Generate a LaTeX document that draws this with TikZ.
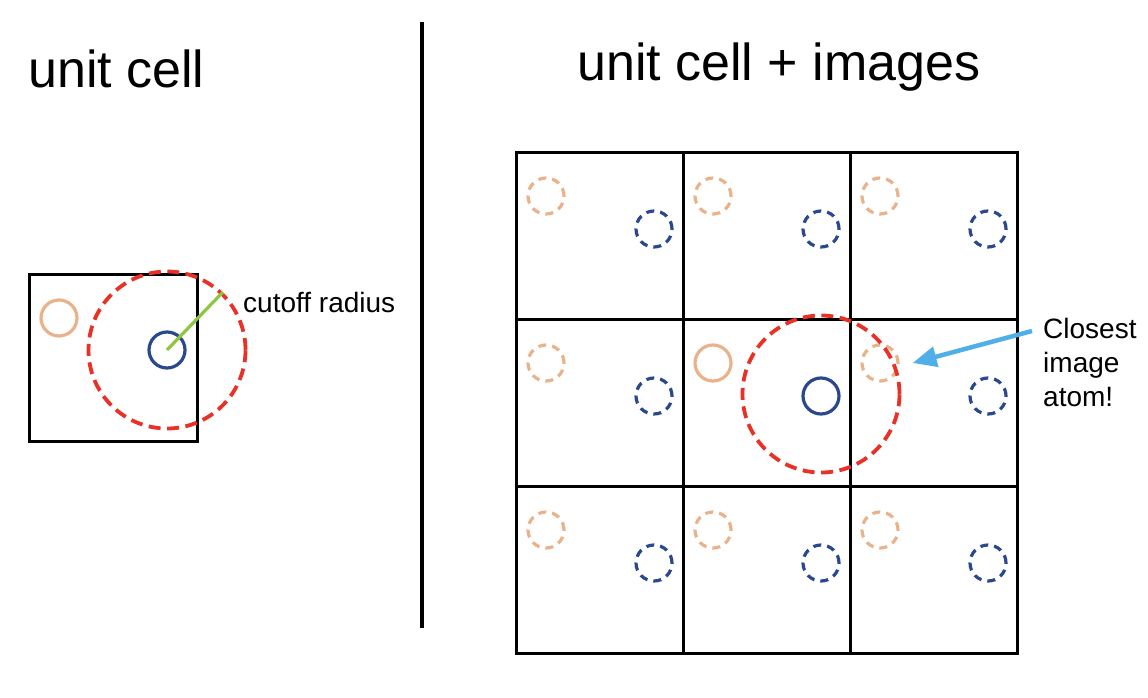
\documentclass[tikz,border=0pt]{standalone}
\usepackage{fontspec}
\setmainfont{Liberation Sans}
\usetikzlibrary{arrows.meta}
\definecolor{atomO}{RGB}{233,178,138}
\definecolor{atomB}{RGB}{42,72,140}
\definecolor{cutred}{RGB}{232,50,40}
\definecolor{cutgreen}{RGB}{141,198,63}
\definecolor{arrblue}{RGB}{80,174,232}
\tikzset{
  cellbox/.style={draw=black, line width=3pt},
  atomo/.style={circle, draw=atomO, line width=3.2pt, minimum size=36pt, inner sep=0pt},
  atomb/.style={circle, draw=atomB, line width=3.2pt, minimum size=36pt, inner sep=0pt},
  imgdash/.style={dash pattern=on 8pt off 6pt},
  cutoff/.style={circle, draw=cutred, line width=3.8pt, dash pattern=on 12pt off 6.5pt, minimum size=157pt, inner sep=0pt},
  lbl/.style={inner sep=0pt, font=\fontsize{28}{34}\selectfont},
  ttl/.style={inner sep=0pt, font=\fontsize{52}{60}\selectfont, anchor=base west},
}
\begin{document}
\begin{tikzpicture}[x=1pt,y=-1pt]
\useasboundingbox (0,0) rectangle (1148,698);
% titles
\node[ttl] (t1) at (28,88) {unit cell};
\node[ttl] (t2) at (577,81) {unit cell + images};
% divider
\coordinate (dtop) at (422,22);
\coordinate (dbot) at (422,628);
\draw[line width=4pt] (dtop) -- (dbot);
% left unit cell
\draw[cellbox] (29,274) rectangle (197,441);
\node[atomo] (oL) at (59,318) {};
\node[atomb] (bL) at (167,350) {};
\node[cutoff] (rL) at (167,350) {};
\draw[cutgreen, line width=3.2pt] (bL.center) -- (rL.46);
\node[lbl, anchor=base west] (cut) at (243,312) {cutoff radius};
% grid of images
\foreach \i in {0,1,2}{
  \foreach \j in {0,1,2}{
    \draw[cellbox] ({516+167*\i},{152+167*\j}) rectangle ({516+167*(\i+1)},{152+167*(\j+1)});
  }
}
\foreach \i in {0,1,2}{
  \foreach \j in {0,1,2}{
    \ifnum\i=1 \ifnum\j=1
      \node[atomo] (o\i\j) at ({516+167*\i+30},{152+167*\j+44}) {};
      \node[atomb] (b\i\j) at ({516+167*\i+138},{152+167*\j+77}) {};
    \else
      \node[atomo, imgdash] (o\i\j) at ({516+167*\i+30},{152+167*\j+44}) {};
      \node[atomb, imgdash] (b\i\j) at ({516+167*\i+138},{152+167*\j+77}) {};
    \fi\else
      \node[atomo, imgdash] (o\i\j) at ({516+167*\i+30},{152+167*\j+44}) {};
      \node[atomb, imgdash] (b\i\j) at ({516+167*\i+138},{152+167*\j+77}) {};
    \fi
  }
}
\node[cutoff] (rC) at (821,394) {};
% label and arrow
\node[lbl, anchor=north west, align=left] (close) at (1043,318) {Closest\\image\\atom!};
\coordinate (astart) at (1032,331);
\draw[arrblue, line width=4.5pt, -{Triangle[length=24pt,width=20pt]}] (astart) -- ([xshift=13pt]o21.east);
\end{tikzpicture}
\end{document}
